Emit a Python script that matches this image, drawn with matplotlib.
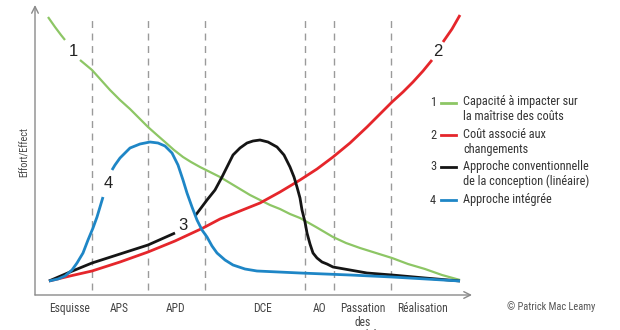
import numpy as np
import matplotlib
matplotlib.use("Agg")
import matplotlib.pyplot as plt
from matplotlib.lines import Line2D
from matplotlib import font_manager as fm

# pick a narrow / condensed sans font if one is installed
def pick_narrow():
    prefs = ["LiberationSansNarrow-Regular", "RobotoCondensed-Regular", "Roboto_Condensed-Regular",
             "OpenSans_Condensed-Regular", "OpenSansCondensed", "DejaVuSansCondensed."]
    files = [f.fname for f in fm.fontManager.ttflist]
    for p in prefs:
        for f in files:
            if p in f.split("/")[-1]:
                return fm.FontProperties(fname=f), True
    return fm.FontProperties(family="Liberation Sans"), False

NARROW, IS_NARROW = pick_narrow()
plt.rcParams['font.family'] = ['Liberation Sans', 'DejaVu Sans']

nan = np.nan
# Curve 1: capacity to impact costs (green)
green_x = [13, 20, 26, 30, nan, 45, 51, 57, 66, 75, 85, 95, 104, 113, 122, 130, 139, 148, 156, 165, 175,
           185, 195, 205, 215, 225, 235, 245, 255, 265, 281, 298, 311, 325, 341, 357, 373, 390, 407, 425]
green_y = [278, 268, 260, 255, nan, 235, 230, 225, 215, 205, 195, 186, 177, 168, 160, 153, 145, 138, 133, 128, 123,
           118, 112, 106, 100, 95, 90, 86, 81, 77, 68, 58, 52, 47, 42, 37, 31, 26, 20, 15]
# Curve 2: cost of changes (red)
red_x = [14, 35, 57, 85, 113, 140, 168, 185, 205, 225, 245, 265, 282, 298, 315, 332, 345, 357, 368, 378, 388, 397, nan, 408, 417, 425]
red_y = [14, 19, 24, 33, 43, 54, 67, 76, 84, 92, 103, 115, 126, 138, 152, 168, 181, 193, 203, 213, 224, 235, nan, 253, 266, 280]
# Curve 3: conventional approach (black)
black_x = [14, 35, 57, 85, 113, 140, nan, 160, 166, 172, 180, 187, 193, 198, 205, 212, 218, 225, 233, 242, 249,
           255, 259, 262, 265, 267, 270, 272, 275, 278, 282, 287, 292, 298, 315, 332, 357, 390, 425]
black_y = [14, 23, 32, 41, 50, 62, nan, 79, 87, 95, 105, 118, 130, 140, 147, 152, 154, 155, 153, 148, 140,
           128, 118, 108, 97, 85, 73, 62, 51, 42, 37, 33, 31, 28, 25, 22, 20, 17, 14]
# Curve 4: integrated approach (blue)
blue_x = [14, 23, 30, 37, 42, 48, 53, 58, 62, 68, nan, 77, 80, 85, 95, 105, 115, 123, 130, 137, 143, 148, 152,
          157, 162, 167, 172, 177, 182, 190, 198, 210, 222, 265, 315, 357, 425]
blue_y = [14, 16, 19, 25, 32, 42, 55, 67, 78, 98, nan, 125, 130, 137, 147, 151, 153, 152, 149, 142, 130, 115, 102,
          88, 75, 65, 58, 49, 42, 35, 30, 26, 24, 22, 20, 18, 14]

phase_bounds = [57, 113, 170, 270, 299, 356]
phase_labels = ["Esquisse", "APS", "APD", "DCE", "AO", "Passation\ndes\nmarchés", "Réalisation"]
phase_label_x = [35, 84, 141, 228, 285, 328, 388]

curve_labels = ["1", "2", "3", "4"]
curve_label_pos = [(38, 243), (403, 243), (148, 70), (73, 112)]

legend_texts = ["Capacité à impacter sur\nla maîtrise des coûts",
                "Coût associé aux\nchangements",
                "Approche conventionnelle\nde la conception (linéaire)",
                "Approche intégrée"]

GREEN = "#8dc665"
RED = "#e5262b"
BLACK = "#151515"
BLUE = "#1e86c6"
colors = [GREEN, RED, BLACK, BLUE]

fs_small = 8.3 if IS_NARROW else 7.0
fs_leg = 8.8 if IS_NARROW else 7.4

def tp(size):
    p = NARROW.copy()
    p.set_size(size)
    return p

W, H = 620, 330
fig = plt.figure(figsize=(W / 100, H / 100), dpi=100)
ax = fig.add_axes([35 / W, 35 / H, (472 - 35) / W, 290 / H])
ax.set_xlim(0, 437)
ax.set_ylim(0, 290)
for s in ax.spines.values():
    s.set_visible(False)
ax.set_xticks([])
ax.set_yticks([])

# axes with arrows
for end in [(0, 1), (1, 0)]:
    ax.annotate("", xy=end, xytext=(0, 0), xycoords="axes fraction",
                arrowprops=dict(arrowstyle="->", color="#8a8a8a", lw=1.0, mutation_scale=12,
                                shrinkA=0, shrinkB=0), annotation_clip=False)

for xb in phase_bounds:
    ax.plot([xb, xb], [5, 280], color="#9a9a9a", lw=1.0, ls=(0, (5, 4)), zorder=1)

kw = dict(solid_joinstyle="round", solid_capstyle="butt")
ax.plot(green_x, green_y, color=GREEN, lw=1.6, zorder=2, **kw)
ax.plot(red_x, red_y, color=RED, lw=2.0, zorder=3, **kw)
ax.plot(black_x, black_y, color=BLACK, lw=2.0, zorder=4, **kw)
ax.plot(blue_x, blue_y, color=BLUE, lw=2.0, zorder=5, **kw)

for lab, (x, y) in zip(curve_labels, curve_label_pos):
    ax.text(x, y, lab, ha="center", va="center", fontsize=12, color="#222222", zorder=6)

for lab, x in zip(phase_labels, phase_label_x):
    ax.text(x, -7, lab, ha="center", va="top", fontproperties=tp(fs_small), color="#444444",
            linespacing=1.05, clip_on=False)

fig.text(25 / W, 1 - 152 / H, "Effort/Effect", rotation=90, ha="center", va="center",
         fontproperties=tp(fs_small - 1.0), color="#444444")

fig.text(507 / W, 1 - 307 / H, "© Patrick Mac Leamy", ha="left", va="center",
         fontproperties=tp(fs_small - 0.8), color="#555555")

row_y = [103, 135, 167, 200]
for lab, txt, col, y in zip(curve_labels, legend_texts, colors, row_y):
    fig.text(433 / W, 1 - y / H, lab, ha="center", va="center", fontproperties=tp(fs_leg),
             color="#333333")
    fig.add_artist(Line2D([441 / W, 456 / W], [1 - y / H, 1 - y / H], color=col, lw=2.0,
                          transform=fig.transFigure))
    fig.text(463 / W, 1 - (y - 7.5) / H, txt, ha="left", va="top", fontproperties=tp(fs_leg),
             color="#333333", linespacing=1.2)

fig.savefig("out.png", dpi=100)
